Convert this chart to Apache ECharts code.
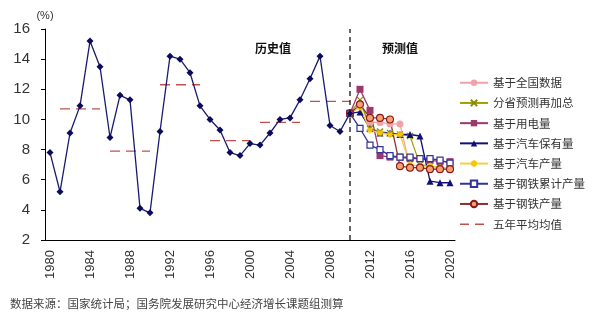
<!DOCTYPE html>
<html><head><meta charset="utf-8">
<script src="https://cdn.jsdelivr.net/npm/echarts@6/dist/echarts.min.js"></script>
<style>html,body{margin:0;padding:0;background:#fff}#c{width:600px;height:325px}</style>
</head><body><div id="c"></div>
<script>
const years = [];
for (let y = 1980; y <= 2020; y++) years.push(String(y));
const historical = [7.8,5.2,9.1,10.9,15.2,13.5,8.8,11.6,11.3,4.1,3.8,9.2,14.2,14.0,13.1,10.9,10.0,9.3,7.8,7.6,8.4,8.3,9.1,10.0,10.1,11.3,12.7,14.2,9.6,9.2,10.4];
// forecasts 2010..2020
const fcNational   = [10.4,11.0,9.8,9.8,9.7,9.7,6.8,6.8,6.7,6.7,6.7];
const fcProvincial = [10.4,11.3,9.4,9.2,9.1,9.0,8.9,7.0,6.9,6.8,6.8];
const fcPower      = [10.4,12.0,10.6,7.6,7.5,7.5,7.4,7.4,7.3,7.2,7.2];
const fcCarStock   = [10.4,10.5,9.4,9.1,9.1,9.0,9.0,8.9,5.9,5.8,5.8];
const fcCarProd    = [10.4,10.8,9.3,9.1,9.0,9.0,7.0,6.9,6.9,6.8,6.8];
const fcSteelCum   = [10.4,9.4,8.3,8.0,7.6,7.5,7.5,7.4,7.4,7.3,7.1];
const fcSteel      = [10.4,11.0,10.1,10.1,10.0,6.9,6.8,6.8,6.7,6.7,6.7];
const avgStarts = [1981,1986,1991,1996,2001,2006];
const avgValues = [10.7,7.9,12.3,8.6,9.8,11.2];
const names = ['基于全国数据','分省预测再加总','基于用电量','基于汽车保有量','基于汽车产量','基于钢铁累计产量','基于钢铁产量','五年平均均值'];

function fc(arr){ const d = years.map(()=>null); arr.forEach((v,i)=>{ d[30+i]=v; }); return d; }
const xPath = 'path://M0,0L10,10M10,0L0,10';
const starPath = 'path://M5,0L5,10M0,5L10,5M1.5,1.5L8.5,8.5M8.5,1.5L1.5,8.5';

const base = {type:'line', showAllSymbol:true, connectNulls:false};
const series = [
  Object.assign({}, base, {name:'历史', data:historical, symbol:'diamond', symbolSize:7, color:'#0b0b5c', lineStyle:{width:1.3,color:'#1a1a6e'}, z:5,
   markLine:{silent:true, symbol:'none', label:{show:false}, lineStyle:{type:[5,4],color:'#333',width:1.5}, data:[{xAxis:'2010'}]}}),
  Object.assign({}, base, {name:names[0], data:fc(fcNational), symbol:'circle', symbolSize:7, color:'#f4a0a8', lineStyle:{width:1.3,color:'#f4a0a8'}}),
  Object.assign({}, base, {name:names[1], data:fc(fcProvincial), symbol:xPath, symbolSize:6, color:'#8a8a00', itemStyle:{color:'#8a8a00',borderColor:'#8a8a00',borderWidth:1.3}, lineStyle:{width:1.2,color:'#a0a000'}}),
  Object.assign({}, base, {name:names[2], data:fc(fcPower), symbol:'rect', symbolSize:7, color:'#9b3a6a', lineStyle:{width:1.3,color:'#9b3a6a'}}),
  Object.assign({}, base, {name:names[3], data:fc(fcCarStock), symbol:'triangle', symbolSize:7, color:'#10107a', lineStyle:{width:1.3,color:'#10107a'}}),
  Object.assign({}, base, {name:names[4], data:fc(fcCarProd), symbol:starPath, symbolSize:7, color:'#f5c800', itemStyle:{color:'#f5c800',borderColor:'#f5c800',borderWidth:1.3}, lineStyle:{width:1.3,color:'#f5d040'}}),
  Object.assign({}, base, {name:names[5], data:fc(fcSteelCum), symbol:'rect', symbolSize:6, color:'#333399', itemStyle:{color:'#ffffff',borderColor:'#333399',borderWidth:1.2}, lineStyle:{width:1.3,color:'#333399'}}),
  Object.assign({}, base, {name:names[6], data:fc(fcSteel), symbol:'circle', symbolSize:7, color:'#8b1a1a', itemStyle:{color:'#f5a070',borderColor:'#8b1a1a',borderWidth:1.1}, lineStyle:{width:1.3,color:'#8b3030'}})
];
avgStarts.forEach((s,k)=>{
  const d = years.map(()=>null);
  for (let y=s; y<s+5; y++) d[y-1980]=avgValues[k];
  series.push(Object.assign({}, base, {name:names[7], data:d, symbol:'none', color:'#c0504d', lineStyle:{type:[10,6],width:1.3,color:'#c0504d'}, z:1}));
});

const legendData = names.map(n => n === '五年平均均值'
  ? {name:n, itemStyle:{opacity:0}, lineStyle:{type:[9,6], color:'#c0504d', width:1.5}}
  : {name:n});

const chart = echarts.init(document.getElementById('c'));
chart.setOption({
  animation:false,
  textStyle:{fontFamily:'Liberation Sans, Arial, sans-serif'},
  grid:{left:45, right:145, top:29, bottom:85},
  xAxis:{type:'category', data:years, boundaryGap:true,
    axisLine:{lineStyle:{color:'#000'}}, axisTick:{interval:0, length:5, lineStyle:{color:'#000'}},
    axisLabel:{interval:3, rotate:90, fontSize:13, color:'#333', margin:10}},
  yAxis:{type:'value', min:2, max:16, interval:2, name:'(%)', nameGap:8,
    nameTextStyle:{fontSize:11, color:'#333'},
    axisLine:{show:true, lineStyle:{color:'#000'}}, axisTick:{show:true, length:4, lineStyle:{color:'#000'}},
    splitLine:{show:false}, axisLabel:{fontSize:15, color:'#333', margin:15}},
  legend:{orient:'vertical', left:454, top:72, itemWidth:28, itemHeight:8, itemGap:8.7,
    data:legendData, textStyle:{fontSize:11.5, color:'#333', fontFamily:'Noto Sans CJK SC'}},
  graphic:[
    {type:'text', left:255, top:42, style:{text:'历史值', font:'bold 12px "Noto Sans CJK SC"', fill:'#111'}},
    {type:'text', left:382, top:42, style:{text:'预测值', font:'bold 12px "Noto Sans CJK SC"', fill:'#111'}},
    {type:'text', left:10, top:298, style:{text:'数据来源：国家统计局；国务院发展研究中心经济增长课题组测算', font:'11.5px "Noto Sans CJK SC"', fill:'#444'}}
  ],
  series:series
});
</script></body></html>
